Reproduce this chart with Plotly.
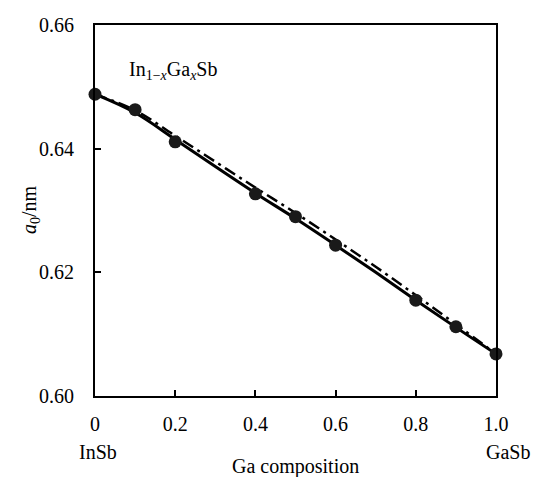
import plotly.graph_objects as go

# Data
x_pts = [0.0, 0.1, 0.2, 0.4, 0.5, 0.6, 0.8, 0.9, 1.0]
a_pts = [0.6488, 0.6463, 0.6411, 0.6327, 0.6290, 0.6244, 0.6155, 0.6112, 0.6068]

x_fit = [0.0, 0.1, 0.2, 0.3, 0.4, 0.5, 0.6, 0.7, 0.8, 0.9, 1.0]
a_solid = [0.6488, 0.6458, 0.6415, 0.6371, 0.6328, 0.6287, 0.6244, 0.6200, 0.6155, 0.6111, 0.6068]
a_dashdot = [0.6488, 0.6462, 0.6421, 0.6379, 0.6337, 0.6296, 0.6253, 0.6209, 0.6163, 0.6116, 0.6068]

x_ticks = [0, 0.2, 0.4, 0.6, 0.8, 1.0]
x_ticktext = ["0", "0.2", "0.4", "0.6", "0.8", "1.0"]
y_ticks = [0.60, 0.62, 0.64, 0.66]
y_ticktext = ["0.60", "0.62", "0.64", "0.66"]

FONT = "Liberation Serif, Times New Roman, serif"
FS = 20
L, R, T, B = 95, 42, 25, 81
W, H = 538, 477

def px_x(px):
    return (px - L) / (W - L - R)

def px_y(py):
    return (H - B - py) / (H - T - B)

fig = go.Figure()
fig.add_trace(go.Scatter(x=x_fit, y=a_dashdot, mode="lines",
                         line=dict(color="black", width=2.5, dash="12px,5px,3px,5px", shape="spline"),
                         showlegend=False))
fig.add_trace(go.Scatter(x=x_fit, y=a_solid, mode="lines",
                         line=dict(color="black", width=3, shape="spline"),
                         showlegend=False))
fig.add_trace(go.Scatter(x=x_pts, y=a_pts, mode="markers",
                         marker=dict(color="#1a1a1a", size=13),
                         showlegend=False, cliponaxis=False))

fig.update_layout(
    width=W, height=H,
    margin=dict(l=L, r=R, t=T, b=B),
    plot_bgcolor="white", paper_bgcolor="white",
    font=dict(family=FONT, size=FS, color="black"),
    xaxis=dict(range=[0, 1.0], tickvals=x_ticks, ticktext=x_ticktext,
               ticks="inside", ticklen=6, tickwidth=1.5, tickcolor="black",
               showline=True, linecolor="black", linewidth=2, mirror=True,
               showgrid=False, zeroline=False, ticklabelstandoff=9,
               tickfont=dict(family=FONT, size=FS, color="black")),
    yaxis=dict(range=[0.60, 0.66], tickvals=y_ticks, ticktext=y_ticktext,
               ticks="inside", ticklen=6, tickwidth=1.5, tickcolor="black",
               showline=True, linecolor="black", linewidth=2, mirror=True,
               showgrid=False, zeroline=False, ticklabelstandoff=15,
               tickfont=dict(family=FONT, size=FS, color="black")),
)

def label(px, py, text, angle=0, anchor="center"):
    fig.add_annotation(x=px_x(px), y=px_y(py), xref="paper", yref="paper",
                       xanchor=anchor, yanchor="middle", showarrow=False,
                       text=text, textangle=angle,
                       font=dict(family=FONT, size=FS, color="black"))

label(127, 70, "In<sub>1−<i>x</i></sub>Ga<sub><i>x</i></sub>Sb", anchor="left")
label(30, 210, "<i>a</i><sub>0</sub>/nm", angle=-90)
label(98, 452, "InSb")
label(508, 452, "GaSb")
label(295, 466, "Ga composition")

fig.write_html("out.html")
